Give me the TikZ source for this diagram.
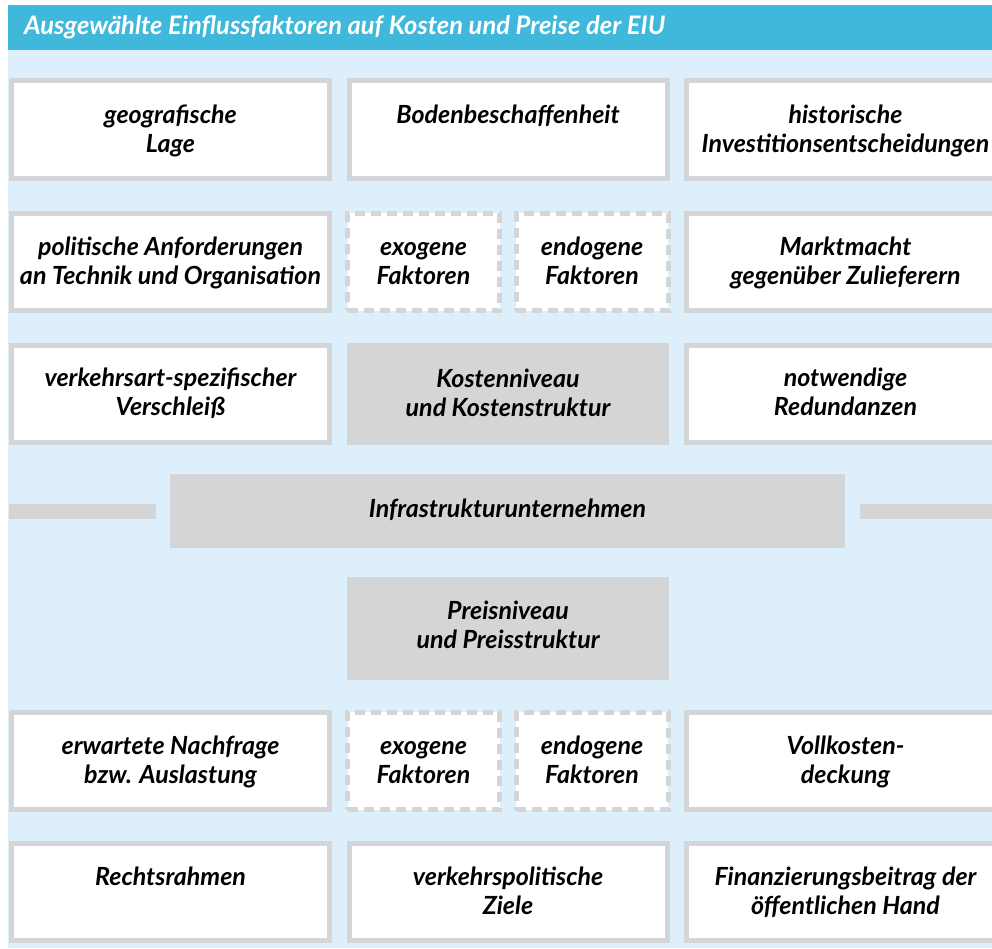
\documentclass[tikz,border=0pt]{standalone}
\usepackage{fontspec}
\setmainfont{Lato}
\usetikzlibrary{calc}
\definecolor{titleblue}{RGB}{63,184,220}
\definecolor{bgblue}{RGB}{220,239,250}
\definecolor{boxgray}{RGB}{212,213,215}
\newcommand{\hstrut}{\rule{0pt}{20pt}}
\tikzset{
  whitebox/.style={draw=boxgray, line width=5pt, fill=white, minimum width=318pt, minimum height=97.5pt, inner sep=0pt},
  dashbox/.style={whitebox, dash pattern=on 10pt off 6pt, minimum width=152pt},
  graybox/.style={fill=boxgray, draw=none, inner sep=0pt, minimum width=322pt, minimum height=102.5pt},
  txt/.style={font=\fontsize{25}{29}\selectfont\bfseries\itshape, align=center, anchor=north, inner sep=0pt},
  bar/.style={fill=boxgray, draw=none}
}
\begin{document}
\begin{tikzpicture}[x=1pt,y=-1pt]
\useasboundingbox (0,0) rectangle (992,948);
\clip (0,0) rectangle (992,948);
\fill[white] (0,0) rectangle (992,948);
\fill[titleblue] (8,5) rectangle (992,50);
\fill[bgblue] (8,50) rectangle (992,948);
\node[font=\fontsize{25.5}{29}\selectfont\bfseries\itshape, text=white, anchor=base west, inner sep=0pt] (title) at (24,34)
  {Ausgewählte Einflussfaktoren auf Kosten und Preise der EIU};

% row 1
\node[whitebox] (a1) at (170.5,129.5) {};
\node[whitebox] (a2) at (508,129.5) {};
\node[whitebox] (a3) at (845.5,129.5) {};
\node[txt] (ta1) at ($(a1.north)+(0,25)$) {\hstrut geografische\\Lage};
\node[txt] (ta2) at ($(a2.north)+(0,25)$) {\hstrut Bodenbeschaffenheit};
\node[txt] (ta3) at ($(a3.north)+(0,25)$) {\hstrut historische\\Investitionsentscheidungen};

% row 2
\node[whitebox] (b1) at (170.5,262) {};
\node[dashbox] (b2) at (423.5,262) {};
\node[dashbox] (b3) at (592,262) {};
\node[whitebox] (b4) at (845.5,262) {};
\node[txt] (tb1) at ($(b1.north)+(0,25)$) {\hstrut politische Anforderungen\\an Technik und Organisation};
\node[txt] (tb2) at ($(b2.north)+(0,25)$) {\hstrut exogene\\Faktoren};
\node[txt] (tb3) at ($(b3.north)+(0,25)$) {\hstrut endogene\\Faktoren};
\node[txt] (tb4) at ($(b4.north)+(0,25)$) {\hstrut Marktmacht\\gegenüber Zulieferern};

% row 3
\node[whitebox] (c1) at (170.5,394) {};
\node[graybox] (c2) at (508,394) {};
\node[whitebox] (c3) at (845.5,394) {};
\node[txt] (tc1) at ($(c1.north)+(0,24)$) {\hstrut verkehrsart-spezifischer\\Verschleiß};
\node[txt] (tc2) at ($(c2.north)+(0,24.5)$) {\hstrut Kostenniveau\\und Kostenstruktur};
\node[txt] (tc3) at ($(c3.north)+(0,24)$) {\hstrut notwendige\\Redundanzen};

% infrastructure bar
\node[graybox, minimum width=675pt, minimum height=74pt] (infra) at (507.5,511) {};
\node[txt] (tinfra) at ($(infra.north)+(0,23.5)$) {\hstrut Infrastrukturunternehmen};
\fill[bar] (9,504) rectangle (156,519);
\fill[bar] (860,504) rectangle (992,519);

% price box
\node[graybox] (p) at (508,628.5) {};
\node[txt] (tp) at ($(p.north)+(0,22.5)$) {\hstrut Preisniveau\\und Preisstruktur};

% row 5
\node[whitebox] (d1) at (170.5,761) {};
\node[dashbox] (d2) at (423.5,761) {};
\node[dashbox] (d3) at (592,761) {};
\node[whitebox] (d4) at (845.5,761) {};
\node[txt] (td1) at ($(d1.north)+(0,25)$) {\hstrut erwartete Nachfrage\\bzw. Auslastung};
\node[txt] (td2) at ($(d2.north)+(0,25)$) {\hstrut exogene\\Faktoren};
\node[txt] (td3) at ($(d3.north)+(0,25)$) {\hstrut endogene\\Faktoren};
\node[txt] (td4) at ($(d4.north)+(0,25)$) {\hstrut Vollkosten-\\deckung};

% row 6
\node[whitebox] (e1) at (170.5,892) {};
\node[whitebox] (e2) at (508,892) {};
\node[whitebox] (e3) at (845.5,892) {};
\node[txt] (te1) at ($(e1.north)+(0,25)$) {\hstrut Rechtsrahmen};
\node[txt] (te2) at ($(e2.north)+(0,25)$) {\hstrut verkehrspolitische\\Ziele};
\node[txt] (te3) at ($(e3.north)+(0,25)$) {\hstrut Finanzierungsbeitrag der\\öffentlichen Hand};
\end{tikzpicture}
\end{document}
